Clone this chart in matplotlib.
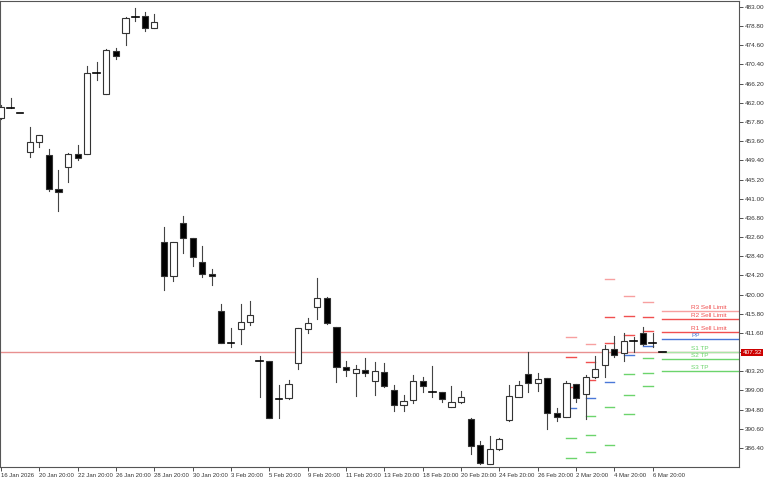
"""Candlestick chart with daily pivot levels (MT-style)."""

import matplotlib
matplotlib.use("Agg")
import matplotlib.pyplot as plt
from matplotlib.patches import Rectangle

opens = [458.7, 460.88, 459.78, 451.24, 453.43, 450.58, 443.13, 447.95, 450.80, 450.80,
         468.54, 463.94, 473.36, 477.30, 480.81, 481.03, 478.40, 431.52, 424.07, 435.68,
         432.40, 427.14, 424.51, 416.40, 409.40, 412.46, 413.99, 405.45, 405.45, 397.13,
         397.35, 405.01, 412.46, 417.28, 419.28, 412.90, 404.14, 402.82, 403.48, 401.07,
         403.04, 399.10, 395.81, 396.91, 401.07, 398.66, 398.66, 395.37, 396.47, 392.75,
         387.05, 382.89, 386.17, 392.52, 397.56, 402.60, 400.63, 401.73, 394.06, 393.18,
         400.41, 398.22, 401.90, 404.57, 408.08, 407.21, 409.84, 411.59, 409.40, 407.32]
highs = [461.53, 463.07, 459.78, 456.71, 455.00, 451.89, 447.29, 451.02, 452.77, 470.07,
         470.95, 473.80, 474.02, 480.81, 482.78, 481.90, 481.47, 434.81, 431.60, 437.22,
         432.50, 430.64, 425.61, 417.94, 412.68, 417.94, 418.60, 406.55, 405.50, 400.19,
         401.29, 412.70, 414.87, 423.63, 419.40, 413.00, 405.45, 404.57, 406.11, 405.23,
         405.01, 400.19, 398.00, 402.38, 401.94, 404.36, 398.70, 399.98, 398.88, 392.96,
         387.93, 389.02, 388.58, 400.19, 401.07, 407.42, 402.82, 401.80, 395.15, 401.07,
         400.50, 402.38, 406.55, 408.96, 410.93, 411.59, 410.72, 412.90, 411.59, 407.32]
lows = [458.46, 460.80, 459.78, 450.14, 452.33, 442.69, 438.31, 444.66, 449.48, 450.70,
        467.01, 463.90, 471.61, 474.68, 479.93, 477.74, 478.30, 421.00, 422.98, 429.11,
        426.26, 423.85, 422.10, 409.30, 408.52, 409.18, 413.34, 397.56, 392.90, 392.96,
        397.10, 403.70, 411.59, 414.65, 413.60, 400.85, 402.17, 397.78, 402.17, 398.00,
        399.76, 394.50, 394.50, 396.25, 398.66, 397.56, 396.47, 395.30, 396.25, 385.08,
        383.00, 382.80, 385.96, 392.40, 397.50, 398.66, 398.88, 390.55, 392.31, 393.10,
        396.47, 392.75, 401.80, 401.90, 406.33, 405.45, 407.42, 408.96, 408.52, 407.32]
closes = [461.09, 460.88, 459.78, 453.43, 454.96, 443.13, 442.47, 450.80, 449.92, 468.54,
          468.54, 473.58, 472.27, 480.59, 480.81, 478.40, 479.71, 424.07, 431.52, 432.40,
          428.23, 424.51, 424.07, 409.40, 409.40, 413.99, 415.53, 405.45, 392.96, 397.13,
          400.41, 412.68, 413.77, 419.28, 413.77, 404.14, 403.48, 403.70, 402.82, 403.26,
          399.98, 395.81, 396.69, 401.07, 399.98, 398.66, 397.13, 396.47, 397.56, 386.83,
          383.11, 386.17, 388.36, 397.78, 400.19, 400.63, 401.51, 394.06, 393.18, 400.63,
          397.35, 401.90, 403.70, 408.08, 406.77, 409.84, 409.84, 409.18, 409.40, 407.32]

date_labels = ["16 Jan 2026", "20 Jan 20:00", "22 Jan 20:00", "26 Jan 20:00", "28 Jan 20:00",
               "30 Jan 20:00", "3 Feb 20:00", "5 Feb 20:00", "9 Feb 20:00", "11 Feb 20:00",
               "13 Feb 20:00", "18 Feb 20:00", "20 Feb 20:00", "24 Feb 20:00", "26 Feb 20:00",
               "2 Mar 20:00", "4 Mar 20:00", "6 Mar 20:00"]

# daily pivot dashes: start candle, then R3, R2, R1, PP, S1, S2, S3 (None = off chart)
pivot_starts = [59, 61, 63, 65, 67]
pivot_r3 = [410.71, 409.18, 423.41, 419.69, 418.38]
pivot_r2 = [406.33, 405.23, 415.09, 415.31, 415.09]
pivot_r1 = [399.76, 401.29, 409.40, 411.15, 412.02]
pivot_pp = [395.15, 397.35, 400.85, 406.77, 408.74]
pivot_s1 = [388.58, 393.40, 395.37, 402.60, 406.11]
pivot_s2 = [384.20, 389.24, 387.05, 398.00, 402.82]
pivot_s3 = [None, 385.52, None, 393.84, 399.98]

# current levels shown as lines on the right
level_names = ["R3 Sell Limit", "R2 Sell Limit", "R1 Sell Limit", "PP", "S1 TP", "S2 TP", "S3 TP"]
level_values = [416.40, 414.65, 411.80, 410.28, 407.42, 405.89, 403.26]
current_price = 407.32

RED = "#f05050"
BLUE = "#4a78d8"
GREEN = "#6cd46c"
level_colors = ["#f7a0a0", RED, RED, BLUE, "#a8e6a8", GREEN, GREEN]
FONT = "Liberation Sans"

fig = plt.figure(figsize=(7.68, 4.8), dpi=100)
ax = fig.add_axes([0.0, 0.027, 0.962, 0.971])

for i, (o, h, l, c) in enumerate(zip(opens, highs, lows, closes)):
    ax.plot([i, i], [l, h], color="#444444", lw=0.8, zorder=2)
    bottom, top = min(o, c), max(o, c)
    if top - bottom < 0.3:
        ax.plot([i - 0.35, i + 0.35], [c, c], color="black", lw=1.2, zorder=3)
        continue
    face = "black" if c < o else "white"
    ax.add_patch(Rectangle((i - 0.32, bottom), 0.64, top - bottom,
                           facecolor=face, edgecolor="#333333", lw=0.8, zorder=3))

groups = [(pivot_r3, "#f7a0a0"), (pivot_r2, RED), (pivot_r1, RED), (pivot_pp, BLUE),
          (pivot_s1, GREEN), (pivot_s2, GREEN), (pivot_s3, GREEN)]
for values, col in groups:
    for start, v in zip(pivot_starts, values):
        if v is not None:
            ax.plot([start, start + 1], [v, v], color=col, lw=1.0, zorder=1)

ax.axhline(current_price, color="#e89090", lw=1.0, zorder=1)

for name, v, col in zip(level_names, level_values, level_colors):
    ax.plot([69.0, 77.5], [v, v], color=col, lw=1.0, zorder=1)
    tcol = BLUE if name == "PP" else (RED if "R" in name else GREEN)
    ax.text(72.0, v + 0.3, name, color=tcol, fontsize=4.6, va="bottom", ha="left",
            family=FONT)

ax.set_xlim(-0.1, 76.98)
ax.set_ylim(382.23, 484.31)

ax.yaxis.tick_right()
yt = [483.0 - 4.2 * k for k in range(24)]
ax.set_yticks(yt)
ax.set_yticklabels(["" if abs(v - 407.4) < 0.01 else f"{v:.2f}" for v in yt],
                   fontsize=4.6, family=FONT)
ax.text(1.005, (current_price - 382.23) / (484.31 - 382.23), f"{current_price:.2f}",
        transform=ax.transAxes, fontsize=4.6, color="white", va="center", ha="left",
        family=FONT,
        bbox=dict(boxstyle="square,pad=0.2", facecolor="#cc0000", edgecolor="none"))

xt = list(range(0, 70, 4))
ax.set_xticks(xt)
ax.set_xticklabels(date_labels, fontsize=4.3, ha="left", family=FONT)
ax.tick_params(length=3, width=0.6, pad=1, colors="#333333")

for s in ax.spines.values():
    s.set_color("#555555")
    s.set_linewidth(0.8)

fig.savefig("out.png", dpi=100)
